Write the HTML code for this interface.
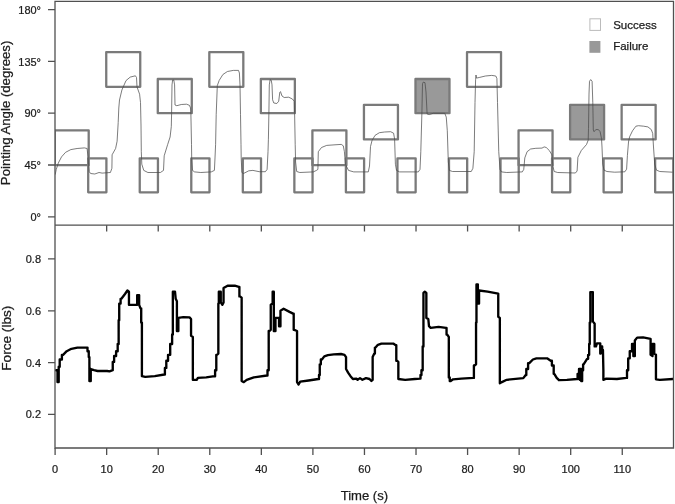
<!DOCTYPE html>
<html><head><meta charset="utf-8"><title>Pointing angle and force</title>
<style>
html,body{margin:0;padding:0;background:#fff}
svg{display:block}
text{font-family:"Liberation Sans",Arial,sans-serif;fill:#1c1c1c;stroke:#1c1c1c;stroke-width:0.25px}
</style></head>
<body>
<svg width="675" height="504" viewBox="0 0 675 504">
<rect width="675" height="504" fill="#fff"/>
<clipPath id="cp"><rect x="55" y="1" width="618.5" height="447"/></clipPath>
<g clip-path="url(#cp)">
<g stroke="#7a7a7a" stroke-width="2.3" stroke-linejoin="round">
<rect x="54.7" y="130.4" width="34" height="34.8" fill="none"/>
<rect x="88.2" y="158.3" width="18.2" height="34" fill="none"/>
<rect x="106.24" y="52.1" width="34" height="34.7" fill="none"/>
<rect x="139.74" y="158.3" width="18.2" height="34" fill="none"/>
<rect x="157.78" y="79" width="34" height="34.2" fill="none"/>
<rect x="191.28" y="158.3" width="18.2" height="34" fill="none"/>
<rect x="209.32" y="52.1" width="34" height="34.7" fill="none"/>
<rect x="242.82" y="158.3" width="18.2" height="34" fill="none"/>
<rect x="260.86" y="79" width="34" height="34.2" fill="none"/>
<rect x="294.36" y="158.3" width="18.2" height="34" fill="none"/>
<rect x="312.4" y="130.4" width="34" height="34.8" fill="none"/>
<rect x="345.9" y="158.3" width="18.2" height="34" fill="none"/>
<rect x="363.94" y="104.8" width="34" height="34.6" fill="none"/>
<rect x="397.44" y="158.3" width="18.2" height="34" fill="none"/>
<rect x="415.48" y="79" width="34" height="34.2" fill="#999"/>
<rect x="448.98" y="158.3" width="18.2" height="34" fill="none"/>
<rect x="467.02" y="52.1" width="34" height="34.7" fill="none"/>
<rect x="500.52" y="158.3" width="18.2" height="34" fill="none"/>
<rect x="518.56" y="130.4" width="34" height="34.8" fill="none"/>
<rect x="552.06" y="158.3" width="18.2" height="34" fill="none"/>
<rect x="570.1" y="104.8" width="34" height="34.6" fill="#999"/>
<rect x="603.6" y="158.3" width="18.2" height="34" fill="none"/>
<rect x="621.64" y="104.8" width="34" height="34.6" fill="none"/>
<rect x="655.14" y="158.3" width="18.2" height="34" fill="none"/>
</g>
<polyline points="55.2,174.6 56.25,169.4 58.3,163.1 61.5,156.9 65.6,152.3 70.8,149.6 77.1,148.5 84.4,147.9 87.1,148.5 88.1,157.9 89.2,171.5 90.6,173.5 94.8,174 99,172.5 102.1,173.1 110.4,172.5 111.9,168.3 112.1,154.8 115.6,148.5 117.1,141.25 118.2,122.5 118.8,108 119.5,100 121.9,90 126,80.6 130.2,77.1 135.4,75.8 136.5,77.5 137,86.9 139.6,94.2 140.5,102.5 141,125 141.3,151.7 141.8,164.2 143.75,170.4 147.9,172.5 160.4,172.5 163.5,170.4 164.2,155.8 167.7,144.4 170.1,137 171.3,126.5 171.6,113.2 172,84.9 172.6,80.1 173.8,80.1 174.6,84.9 175,105 176.8,105.7 181.25,104.5 186.5,104.2 189.4,105.3 190.5,107.9 190.9,114.6 191.5,144.4 191.7,158 192.5,170.4 194.6,171.9 200.8,172.5 211.25,171.9 214.4,170.4 215,158 215.6,144.4 216.2,114.6 217.3,85.6 219.2,80.4 222.9,74.5 227.4,71.5 233.3,70.4 238.5,70.4 239.4,73 240,84.9 240.5,114.6 241,144.4 241.2,158 241.9,172.5 243.5,173.5 248.75,170.8 252.9,170.4 259.2,171.7 265.4,171.7 267.1,169.4 268,151.7 268.4,139.2 268.9,113.2 269.3,84.9 270.1,79.7 271.3,80.4 272,84.9 272.6,99.8 273.8,103 276.8,103.5 278.7,101.25 279.8,92.3 280.5,91.6 282,96 284.2,97.5 288.7,97.2 292.4,99 294.3,101.25 294.6,113.2 295.2,144.4 295.6,162 296.7,171.5 299.8,172.5 313.3,171.9 316.5,170.4 317.9,169.4 318.3,151.7 321.5,147.5 326.7,145.4 335,144.8 341.25,144.4 343.3,145.8 344.4,151.7 345.4,164.2 348.5,170.4 353.75,171.9 368.3,171.9 369.5,166 370.5,146.5 372,140.6 375,135.4 379.4,132.7 384.6,132 390.6,131.7 393.6,133.2 394.6,139.1 395.4,164.2 396.5,170.4 399.6,171.9 418.3,171.9 420,169.4 420.8,151.7 421.9,112.9 422.5,83.75 423.3,82.1 425,82.7 426,92.1 427.1,114 429.2,114.6 433.3,113.3 444.8,113.3 446.25,117.1 447.3,130.8 448.3,162 449.4,170.4 452.5,171.5 471.25,171.5 472.9,168.3 474.2,151.7 475,102.5 475.6,79.6 476,75 476.5,78.1 479.2,77.5 485.4,76 491.7,75.4 495.8,76 496.9,78.5 497.5,102.5 498.75,151.7 500,169.4 501.5,171.9 506.7,172.5 522.3,171.9 523.75,169.4 524.8,157.9 527.1,151.7 530.6,149 535.8,148.3 542,148.1 544.2,146.9 546.25,147.5 549.4,150.6 551.9,154.8 552.9,166.25 554.2,171.5 557.7,172.5 575.4,173 577.1,171 577.9,157.3 581.3,150.5 586.5,144.5 588.2,140.2 588.5,128.3 589,94.1 589.5,81.3 590.7,79.6 592.1,81.3 592.8,102.7 593.3,130 594.1,131.7 595.8,129.6 598.4,129.6 600.1,131.7 601.5,138.5 602,147 602.7,164.1 604,170.1 606.9,171.5 614.6,172.2 624.8,171.8 626.6,169.2 627.4,155.6 628.5,142 629.6,136.8 632.5,130.8 635.9,126.2 638.5,125.7 643.6,126.2 647.9,126.9 651.3,129.6 652.7,133.4 653.5,147 654.7,164.1 656.4,170.1 659.8,171.5 672.6,172.2" fill="none" stroke="#484848" stroke-width="0.72" stroke-linejoin="round"/>
<polyline points="56,370.2 57.5,370.2 57.5,382.1 58.7,382.1 58.7,366.7 59.7,366.7 59.7,359.5 60.7,359.5 61.9,359.5 61.9,354.8 63.1,354.8 66.7,351.2 71.4,348.8 77.4,347.6 86.9,347.6 87.5,347.6 87.5,351.2 88.1,351.2 88.75,351.2 88.75,357.1 89.4,357.1 89.4,381 90.75,381 90.75,369 94,370.2 97.6,371 107.1,371 109.5,371.4 112.75,370.2 112.75,361.9 114.12,361.9 114.12,356 115.5,356 116.1,356 116.1,351.2 116.7,351.2 117.68,351.2 117.68,344 118.65,344 118.65,320.2 119.22,320.2 119.22,303.6 119.8,303.6 120.6,303.6 120.6,298.8 121.4,298.8 125,294 127.4,290.5 128.95,291.7 128.95,304.8 137.15,304.8 137.15,295.2 139.15,295.2 139.15,304.8 140.5,308.3 141.2,308.3 141.2,322.6 141.9,322.6 141.9,376.2 145.2,376.9 154.8,376.2 164.3,374.5 164.9,374.5 164.9,367.9 165.5,367.9 166.3,367.9 166.3,360.7 167.1,360.7 168.05,360.7 168.05,354.8 169,354.8 170.2,354.8 170.2,344 171.4,344 172.12,344 172.12,334.5 172.85,334.5 172.85,291.7 175,291.7 175.7,298.8 176.9,301.2 176.9,331 178.35,331 178.35,317.9 183.3,317.1 189.5,317.4 191.05,319 191.05,335.7 192.85,336.9 192.85,379.8 196.7,379.8 197.9,377.9 206.2,377.4 214.5,376.2 215.1,376.2 215.1,370.2 215.7,370.2 216.3,370.2 216.3,354.8 216.9,354.8 218.35,353.6 218.35,303.6 218.82,303.6 218.82,291.7 219.3,291.7 220.75,291.7 220.75,302.4 222.4,304.8 223.55,302.4 223.55,288.1 227.6,285.7 234.8,285.7 238.8,286.9 239.4,286.9 239.4,296.4 240,296.4 241.65,297.6 241.65,381 243.8,382.1 246.7,379.8 253.8,377.4 266.9,375.5 267.5,375.5 267.5,370.2 268.1,370.2 268.7,370.2 268.7,331 269.3,331 270.75,329.8 270.75,304.8 272.65,303.6 272.65,291.7 273.8,291.7 273.8,331 275.45,331 275.45,317.9 279.05,317.9 279.05,326.2 280.45,326.2 280.45,310.7 283.6,308.8 289.5,311.9 293.1,313.6 293.7,313.6 293.7,329.8 294.3,329.8 297.05,331 297.05,382.1 298.6,384.5 300.2,381.7 308.6,380.5 318.3,379 319.02,379 319.02,375 319.75,375 319.75,364.3 320.82,364.3 320.82,359.5 321.9,359.5 324.3,356.4 327.9,355.2 333.8,354.3 341,354 344.5,354.8 346.05,357.1 346.05,369 348.1,372.6 350.5,376.2 352.9,379 356.4,378.6 357.6,379.8 360,378.1 362.4,379.8 366,378.1 369.5,379 371.4,381 372.65,379.8 372.65,357.1 374.3,353.6 374.9,353.6 374.9,347.6 375.5,347.6 377.9,344.8 381.4,343.6 393.3,343.6 395.7,345.2 396.3,345.2 396.3,360.7 396.9,360.7 398.35,361.9 398.35,379 405.2,379.8 414.8,379 420,378.6 420.5,378.6 420.5,375 421,375 421.45,375 421.45,370.2 421.9,370.2 422.68,370.2 422.68,346.4 423.45,346.4 423.45,292.9 424.8,291.7 426.35,292.9 426.35,317.9 428.3,319 429,326.2 430.7,327.9 438.6,326.9 446,327.9 446.55,327.9 446.55,334.5 447.1,334.5 448.8,336.9 448.8,377.4 449.75,377.4 449.75,381 450.7,381 453.1,379.3 461.4,378.6 473.3,377.9 473.9,377.9 473.9,365.5 474.5,365.5 476.05,364.3 476.05,322.6 476.47,322.6 476.47,284.5 476.9,284.5 477.85,284.5 477.85,303.6 479.05,303.6 479.05,290.5 487.6,291.7 498.25,293.6 498.25,316.7 499.85,317.9 499.85,383.3 501.9,382.1 506.7,379.8 523.3,378.1 525.7,375 526.3,375 526.3,369 526.9,369 528.1,369 528.1,363.1 529.3,363.1 532.9,359.5 536.4,358.3 547.1,358.3 550.7,360.7 551.9,360.7 551.9,365.5 553.1,365.5 553.7,365.5 553.7,373.8 554.3,373.8 556.7,377.9 559,380.2 566.9,379.8 576.9,379 577.6,379 577.6,373.8 578.3,373.8 579.02,373.8 579.02,369 579.75,369 579.75,379.8 580.23,379.8 580.23,369 580.7,369 581.2,369 581.2,381 581.7,381 582.15,381 582.15,370.2 582.6,370.2 583.1,370.2 583.1,364.3 583.6,364.3 587.1,358.8 588.12,358.8 588.12,354.8 589.15,354.8 589.15,344 589.75,344 589.75,322.6 590.35,322.6 590.35,292.1 592.85,292.1 592.85,321.4 594.65,323.8 594.65,346.4 596,346.4 596.9,343.3 599.8,343.3 600.25,343.3 600.25,353.6 600.7,353.6 601.4,346.4 602.17,346.4 602.17,350 602.95,350 603.38,370.2 603.38,379.8 606.2,378.6 616.9,379 626.4,377.9 627,377.9 627,370.2 627.6,370.2 628.2,370.2 628.2,358.3 628.8,358.3 629.75,358.3 629.75,351.2 630.7,351.2 632.03,351.2 632.03,344 633.35,344 633.35,356 634.85,356 634.85,340.5 637.1,337.6 643.1,337.4 650.6,338.8 650.6,354.8 652.5,356 652.5,344 654.25,344 654.25,353.6 655.95,354.8 655.95,379.3 659.8,379.8 672.9,379" fill="none" stroke="#000" stroke-width="2.35" stroke-linejoin="round" stroke-linecap="round"/>
</g>
<g fill="none" stroke="#505050" stroke-width="1.3">
<path d="M55 1.4H673.5V448H55Z M55 225.2H673.5"/>
<path d="M48 9.6H55 M48 61.4H55 M48 113.2H55 M48 165H55 M48 216.8H55 M48 258.9H55 M48 310.8H55 M48 362.6H55 M48 414.3H55 M55.1 448V455 M106.66 225.2V231.5 M106.66 448V455 M158.22 225.2V231.5 M158.22 448V455 M209.78 225.2V231.5 M209.78 448V455 M261.34 225.2V231.5 M261.34 448V455 M312.9 225.2V231.5 M312.9 448V455 M364.46 225.2V231.5 M364.46 448V455 M416.02 225.2V231.5 M416.02 448V455 M467.58 225.2V231.5 M467.58 448V455 M519.14 225.2V231.5 M519.14 448V455 M570.7 225.2V231.5 M570.7 448V455 M622.26 225.2V231.5 M622.26 448V455"/>
</g>
<g font-size="11.5">
<text transform="translate(41 13.7) scale(0.955 1)" text-anchor="end">180°</text>
<text transform="translate(41 65.5) scale(0.955 1)" text-anchor="end">135°</text>
<text transform="translate(41 117.3) scale(0.955 1)" text-anchor="end">90°</text>
<text transform="translate(41 169.1) scale(0.955 1)" text-anchor="end">45°</text>
<text transform="translate(41 220.9) scale(0.955 1)" text-anchor="end">0°</text>
<text transform="translate(41 263) scale(0.955 1)" text-anchor="end">0.8</text>
<text transform="translate(41 314.9) scale(0.955 1)" text-anchor="end">0.6</text>
<text transform="translate(41 366.7) scale(0.955 1)" text-anchor="end">0.4</text>
<text transform="translate(41 418.4) scale(0.955 1)" text-anchor="end">0.2</text>
<text transform="translate(55.1 473.1) scale(0.955 1)" text-anchor="middle">0</text>
<text transform="translate(106.66 473.1) scale(0.955 1)" text-anchor="middle">10</text>
<text transform="translate(158.22 473.1) scale(0.955 1)" text-anchor="middle">20</text>
<text transform="translate(209.78 473.1) scale(0.955 1)" text-anchor="middle">30</text>
<text transform="translate(261.34 473.1) scale(0.955 1)" text-anchor="middle">40</text>
<text transform="translate(312.9 473.1) scale(0.955 1)" text-anchor="middle">50</text>
<text transform="translate(364.46 473.1) scale(0.955 1)" text-anchor="middle">60</text>
<text transform="translate(416.02 473.1) scale(0.955 1)" text-anchor="middle">70</text>
<text transform="translate(467.58 473.1) scale(0.955 1)" text-anchor="middle">80</text>
<text transform="translate(519.14 473.1) scale(0.955 1)" text-anchor="middle">90</text>
<text transform="translate(570.7 473.1) scale(0.955 1)" text-anchor="middle">100</text>
<text transform="translate(622.26 473.1) scale(0.955 1)" text-anchor="middle">110</text>
<text x="613.2" y="28.5">Success</text>
<text x="613.2" y="50">Failure</text>
</g>
<rect x="589.9" y="18.8" width="10.6" height="11.6" fill="#fff" stroke="#bbb" stroke-width="1"/>
<rect x="589.4" y="41" width="11" height="11.8" fill="#999"/>
<g font-size="13">
<text transform="translate(10.4 112.9) rotate(-90)" text-anchor="middle" textLength="144.5" lengthAdjust="spacingAndGlyphs">Pointing Angle (degrees)</text>
<text transform="translate(11 338.2) rotate(-90)" text-anchor="middle" textLength="65" lengthAdjust="spacingAndGlyphs">Force (lbs)</text>
<text x="364.4" y="499.6" text-anchor="middle" textLength="47.5" lengthAdjust="spacingAndGlyphs">Time (s)</text>
</g>
</svg>
</body></html>
